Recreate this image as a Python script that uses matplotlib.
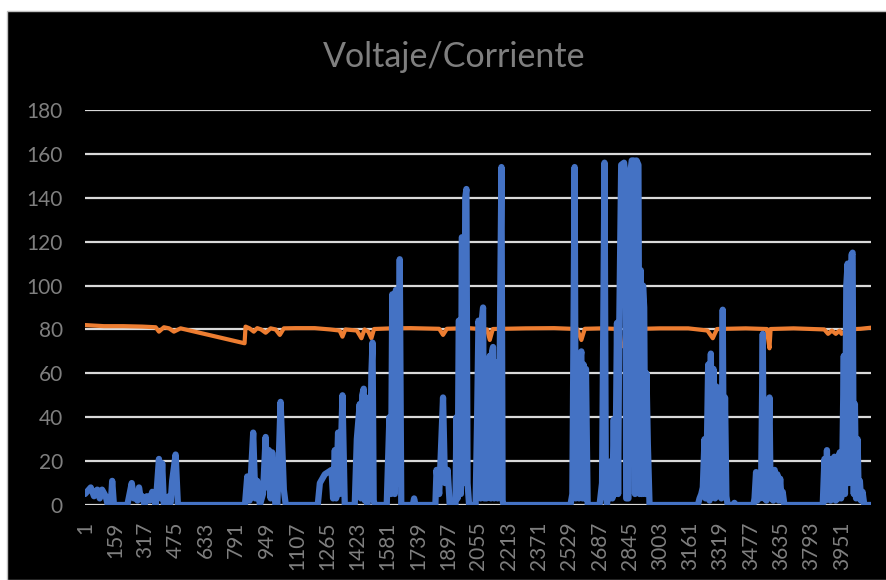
import matplotlib
matplotlib.use("Agg")
import matplotlib.pyplot as plt
from matplotlib.patches import Rectangle

# Corriente (blue) - vertices: sample index, value
corr_idx = [1, 31, 48, 65, 78, 90, 109, 120, 135, 143, 152, 222, 245, 256, 266, 275, 283, 292, 300, 312,
            324, 338, 352, 370, 387, 396, 404, 413, 430, 439, 448, 456, 474, 486,
            836, 848, 860, 879, 890, 900, 914, 930, 944, 952, 961, 970, 978, 987, 995, 1005, 1022, 1039, 1049,
            1216, 1227, 1253, 1288, 1296, 1305, 1312, 1322, 1330, 1345, 1357,
            1409, 1420, 1435, 1441, 1448, 1456, 1462, 1468, 1474, 1490, 1496, 1502, 1508, 1514,
            1576, 1590, 1598, 1605, 1612, 1618, 1624, 1630, 1636, 1644, 1652, 1712, 1719, 1726,
            1830, 1836, 1850, 1870, 1880, 1894, 1905,
            1935, 1940, 1946, 1952, 1957, 1963, 1968, 1974, 1980, 1986, 1992, 1998, 2006,
            2040, 2048, 2055, 2061, 2066, 2072, 2079, 2085, 2091, 2097, 2103, 2109, 2114, 2120, 2126, 2131,
            2137, 2143, 2149, 2155, 2162, 2168, 2175, 2181, 2186,
            2535, 2545, 2557, 2563, 2569, 2574, 2580, 2586, 2592, 2598, 2604, 2610, 2616, 2625,
            2687, 2700, 2713, 2720, 2726, 2733, 2740, 2747, 2754, 2761, 2767, 2773, 2778, 2784, 2790,
            2800, 2815, 2822, 2826, 2838, 2846, 2855, 2866, 2872, 2880, 2890, 2896, 2902, 2908, 2914,
            2920, 2926, 2932, 2939, 2948,
            3200, 3209, 3218, 3226, 3235, 3240, 3247, 3254, 3261, 3268, 3274, 3282, 3290, 3297, 3304,
            3310, 3316, 3323, 3330, 3336, 3342, 3349, 3356,
            3385, 3391, 3397,
            3490, 3496, 3504, 3510, 3517, 3524, 3531, 3539, 3545, 3551, 3558, 3565, 3574, 3580, 3587,
            3594, 3601, 3608, 3615, 3622, 3630, 3637, 3643, 3652,
            3852, 3861, 3867, 3874, 3880, 3887, 3893, 3900, 3906, 3913, 3920, 3927, 3934, 3941, 3948,
            3955, 3962, 3968, 3975, 3982, 3988, 3995, 4002, 4008, 4014, 4020, 4026, 4034, 4040, 4046,
            4052, 4060, 4069, 4104]
corr_val = [5, 8, 4, 7, 3, 7, 4, 0, 0, 11, 0, 0, 10, 3, 5, 2, 8, 3, 4, 0,
            4, 2, 6, 0, 21, 3, 19, 0, 0, 4, 1, 11, 23, 0,
            0, 13, 2, 33, 3, 11, 0, 5, 31, 8, 25, 3, 24, 10, 0, 0, 47, 7, 0,
            0, 10, 14, 16, 3, 25, 3, 33, 5, 50, 0,
            0, 30, 46, 3, 50, 53, 2, 49, 0, 20, 60, 74, 2, 0,
            0, 40, 5, 96, 60, 5, 98, 90, 10, 112, 0, 0, 3, 0,
            0, 16, 5, 49, 10, 16, 0,
            0, 40, 3, 84, 84, 5, 122, 122, 10, 140, 144, 10, 0,
            0, 40, 84, 80, 3, 84, 90, 3, 45, 3, 60, 4, 68, 3, 70, 72,
            3, 65, 60, 3, 10, 90, 154, 2, 0,
            0, 5, 154, 3, 68, 66, 3, 66, 70, 3, 64, 3, 62, 0,
            0, 10, 156, 5, 0, 13, 3, 20, 3, 39, 5, 40, 83, 5, 83,
            155, 156, 150, 3, 3, 150, 157, 157, 5, 157, 155, 5, 107, 5, 100,
            90, 5, 60, 28, 0,
            0, 3, 5, 8, 30, 3, 25, 64, 2, 69, 5, 62, 3, 54, 45,
            4, 50, 3, 89, 5, 49, 4, 0,
            0, 1, 0,
            0, 3, 15, 2, 14, 3, 15, 78, 3, 16, 2, 15, 49, 3, 16,
            2, 16, 3, 14, 2, 12, 2, 6, 0,
            0, 21, 2, 25, 3, 21, 2, 21, 3, 22, 2, 22, 3, 24, 3,
            24, 68, 5, 100, 110, 10, 60, 114, 115, 5, 46, 3, 30, 3, 11,
            2, 6, 0, 0]

# Voltaje (orange)
volt_idx = [1, 100, 200, 300, 370, 387, 413, 440, 465, 500, 834, 839, 860, 882, 900, 920, 944, 970, 996,
            1018, 1039, 1100, 1200, 1280, 1330, 1345, 1360, 1420, 1444, 1460, 1480, 1496, 1510, 1600,
            1700, 1850, 1870, 1890, 2000, 2100, 2114, 2130, 2300, 2450, 2570, 2592, 2610, 2700, 2790,
            2800, 2827, 2860, 2870, 3000, 3150, 3250, 3278, 3300, 3450, 3560, 3574, 3580, 3700, 3860,
            3880, 3900, 3920, 3940, 3950, 3980, 4050, 4104]
volt_val = [82, 81.5, 81.5, 81.3, 81, 79, 81, 80.5, 79, 80.5, 73.7, 81.3, 80.5, 79, 80.6, 80, 78.5, 80.5, 80,
            77.5, 80.5, 80.6, 80.6, 80, 79.5, 76.7, 80, 79.5, 76, 80, 79, 76, 80.2, 80.5,
            80.6, 80.3, 77.5, 80.3, 80.6, 80, 75.2, 80.2, 80.5, 80.6, 80.2, 75.2, 80.3, 80.5, 80.2,
            73, 71.4, 72, 80.2, 80.5, 80.5, 79.5, 76, 80.2, 80.5, 80.2, 71.4, 80.2, 80.5, 80,
            78, 79.5, 78, 79.5, 78, 80, 80.3, 80.8]

x_ticks = list(range(1, 4000, 158))
y_ticks = list(range(0, 181, 20))

txt = "#7f7f7f"
plt.rcParams["font.family"] = ["Lato", "DejaVu Sans"]

fig = plt.figure(figsize=(8.86, 5.8), dpi=100, facecolor="white")
fig.patches.append(Rectangle((7 / 886, 0), 1, 1 - 11 / 580, transform=fig.transFigure,
                             facecolor="black", edgecolor="#bfbfbf", linewidth=1, zorder=-10))

ax = fig.add_axes([85 / 886, 75 / 580, 786 / 886, 395 / 580])
ax.set_facecolor("black")
ax.plot(volt_idx, volt_val, color="#ED7D31", linewidth=3.0, zorder=3,
        solid_joinstyle="round", solid_capstyle="round")
ax.plot(corr_idx, corr_val, color="#4472C4", linewidth=4.5, zorder=4,
        solid_joinstyle="round", solid_capstyle="round")

ax.set_ylim(0, 180)
ax.set_xlim(1, 4104)
ax.set_yticks(y_ticks)
ax.set_xticks(x_ticks)
ax.set_xticklabels([str(v) for v in x_ticks], rotation=90)
ax.tick_params(axis="both", length=0, colors=txt, labelsize=15)
ax.tick_params(axis="y", pad=16)
ax.tick_params(axis="x", pad=12)
ax.grid(axis="y", color="#d9d9d9", linewidth=1.6, zorder=1)
ax.set_axisbelow(True)
for s in ax.spines.values():
    s.set_visible(False)

fig.text(454 / 886, 1 - 57 / 580, "Voltaje/Corriente", ha="center", va="center",
         color=txt, fontsize=24.5)

fig.savefig("out.png", dpi=100, facecolor=fig.get_facecolor())
